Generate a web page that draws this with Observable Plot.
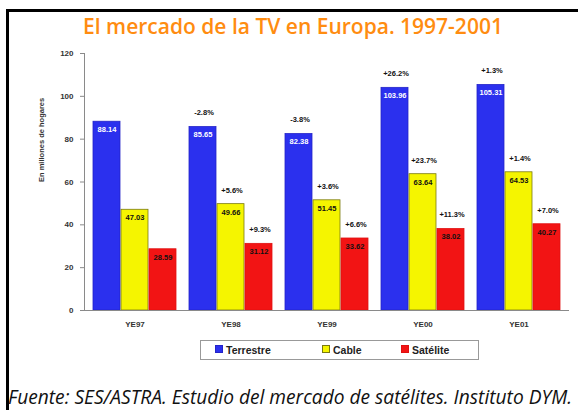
<!DOCTYPE html>
<html>
<head>
<meta charset="utf-8">
<script src="https://cdn.jsdelivr.net/npm/d3@7"></script>
<script src="https://cdn.jsdelivr.net/npm/@observablehq/plot@0.6"></script>
<style>
  html, body { margin: 0; padding: 0; background: #fff; width: 578px; height: 410px; overflow: hidden; }
  #frame { position: absolute; left: 6px; top: 9px; width: 640px; height: 440px; border-left: 3px solid #000; border-top: 3px solid #000; }
  #title { position: absolute; left: 0; top: 14px; width: 586px; text-align: center; font-family: "Open Sans", sans-serif; font-weight: 600; font-size: 21px; line-height: 24px; color: #ff8c10; }
  #chart { position: absolute; left: 0; top: 40px; }
  #legend { position: absolute; left: 200px; top: 340px; width: 279px; height: 20px; border: 1px solid #999; box-sizing: border-box; font-family: "Liberation Sans", Arial, sans-serif; font-weight: bold; font-size: 10.5px; color: #222; }
  .item { position: absolute; top: 3px; line-height: 13px; }
  .sw { display: inline-block; width: 6px; height: 6px; margin-right: 3px; vertical-align: 1px; }
  #caption { position: absolute; left: 8px; top: 386px; font-family: "Open Sans", sans-serif; font-style: italic; font-size: 19px; line-height: 22px; color: #111; white-space: nowrap; }
</style>
</head>
<body>
<div id="frame"></div>
<div id="title">El mercado de la TV en Europa. 1997-2001</div>
<div id="chart"></div>
<div id="legend"></div>
<div id="caption">Fuente: SES/ASTRA. Estudio del mercado de satélites. Instituto DYM.</div>
<script>
const years = ["YE97", "YE98", "YE99", "YE00", "YE01"];
const series = ["Terrestre", "Cable", "Satélite"];
const terrestre = [88.14, 85.65, 82.38, 103.96, 105.31];
const cable = [47.03, 49.66, 51.45, 63.64, 64.53];
const satelite = [28.59, 31.12, 33.62, 38.02, 40.27];
const terrestrePct = ["", "-2.8%", "-3.8%", "+26.2%", "+1.3%"];
const cablePct = ["", "+5.6%", "+3.6%", "+23.7%", "+1.4%"];
const satelitePct = ["", "+9.3%", "+6.6%", "+11.3%", "+7.0%"];
const yTicks = [0, 20, 40, 60, 80, 100, 120];
const colors = ["#2b30ee", "#f5f500", "#f21414"];
const strokes = ["#2424c8", "#7a7a10", "#e01010"];
const labelFill = ["#ffffff", "#111111", "#111111"];
const yTitle = "En millones de hogares";

const valuesBySeries = [terrestre, cable, satelite];
const pctBySeries = [terrestrePct, cablePct, satelitePct];
const rows = series.map((s, j) => years.map((y, i) => ({
  year: y, series: s, value: valuesBySeries[j][i], pct: pctBySeries[j][i]
})));

const bw = 28; // width of one bar inside the year band
const marks = [];
series.forEach((s, j) => {
  marks.push(Plot.barY(rows[j], {
    x: "year", y: "value", fill: colors[j], stroke: strokes[j], strokeWidth: 0.8,
    insetLeft: j * bw, insetRight: (2 - j) * bw
  }));
});
series.forEach((s, j) => {
  const dx = (j - 1) * bw;
  marks.push(Plot.text(rows[j], {
    x: "year", y: "value", text: d => d.value.toFixed(2), dx, dy: 8,
    fill: labelFill[j], fontSize: 7.5, fontWeight: "bold"
  }));
  marks.push(Plot.text(rows[j].filter(d => d.pct), {
    x: "year", y: "value", text: "pct", dx: dx + 1, dy: -14,
    fill: "#111", fontSize: 7.5, fontWeight: "bold"
  }));
});
marks.push(Plot.ruleY([0], {stroke: "#8a8a8a", strokeWidth: 1}));
marks.push(Plot.frame({anchor: "left", stroke: "#8a8a8a"}));
marks.push(Plot.axisY(yTicks, {
  tickSize: 4, tickPadding: 7, fontSize: 8, fontWeight: "bold", fill: "#333", stroke: "#8a8a8a", label: null
}));
marks.push(Plot.text([yTitle], {
  text: d => d, frameAnchor: "left", rotate: -90, dx: -43,
  fontSize: 7.5, fontWeight: "bold", fill: "#333"
}));
marks.push(Plot.axisX({tickSize: 0, tickPadding: 11, fontSize: 8, fontWeight: "bold", fill: "#333", label: null}));

const chart = Plot.plot({
  width: 578,
  height: 295,
  marginLeft: 84,
  marginRight: 9,
  marginTop: 13,
  marginBottom: 25,
  style: {fontFamily: "'Liberation Sans', Arial, sans-serif", background: "transparent", overflow: "visible"},
  x: {domain: years, paddingInner: 0.134, paddingOuter: 0.083},
  y: {domain: [0, 120]},
  marks
});
document.getElementById("chart").appendChild(chart);

const legend = document.getElementById("legend");
const itemX = [14, 121, 200];
series.forEach((s, j) => {
  const it = document.createElement("div");
  it.className = "item";
  it.style.left = itemX[j] + "px";
  it.innerHTML = `<span class="sw" style="background:${colors[j]};border:1px solid ${strokes[j]}"></span>${s}`;
  legend.appendChild(it);
});

// fit caption to the reference width
const cap = document.getElementById("caption");
const w = cap.getBoundingClientRect().width;
if (w > 0) cap.style.fontSize = (19 * 564 / w).toFixed(2) + "px";
</script>
</body>
</html>
